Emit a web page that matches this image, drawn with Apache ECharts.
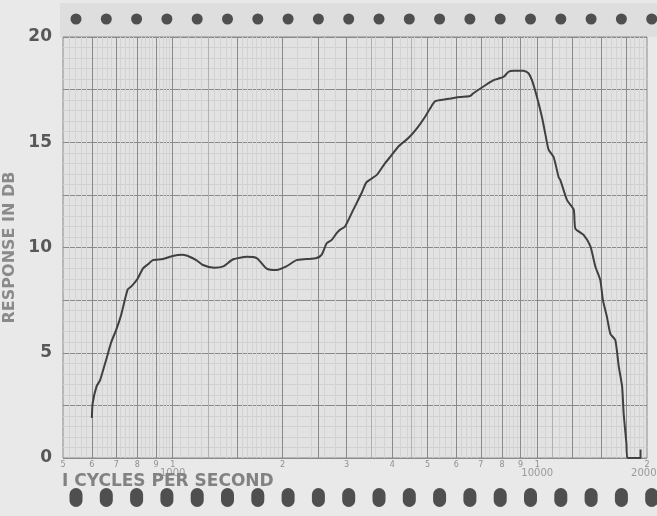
<!DOCTYPE html>
<html>
<head>
<meta charset="utf-8">
<script src="https://cdn.jsdelivr.net/npm/echarts@6/dist/echarts.min.js"></script>
<style>
html, body { margin: 0; padding: 0; background: #e9e9e9; }
#chart { width: 657px; height: 516px; }
</style>
</head>
<body>
<div id="chart"></div>
<script>
// curva de respuesta: frecuencia (Hz) y respuesta (dB)
var freqHz = [600, 603, 618, 632, 655, 678, 700, 722, 752, 770, 800, 828, 855, 882, 940,
  1000, 1065, 1112, 1160, 1210, 1300, 1375, 1465, 1595, 1700, 1810, 1925, 2050, 2185, 2330,
  2480, 2560, 2645, 2730, 2820, 2880, 2970, 3130, 3300, 3400, 3630, 3820, 3950, 4160, 4430,
  4670, 4920, 5080, 5250, 5650, 6140, 6540, 6680, 7120, 7590, 8080, 8340, 8610, 9160, 9460,
  9670, 9980, 10300, 10520, 10740, 11090, 11440, 11570, 12070, 12590, 12720, 13400, 13990, 14430, 14890,
  15140, 15530, 15870, 16370, 16730, 17090, 17260, 17560, 17700, 19200, 19200];
var responseDb = [1.9, 2.6, 3.4, 3.7, 4.6, 5.5, 6.1, 6.8, 8.0, 8.15, 8.5, 9.0, 9.2, 9.4, 9.45,
  9.6, 9.65, 9.56, 9.4, 9.17, 9.04, 9.1, 9.44, 9.56, 9.5, 9.0, 8.93, 9.1, 9.4, 9.45,
  9.5, 9.65, 10.2, 10.36, 10.7, 10.85, 11.0, 11.8, 12.6, 13.1, 13.45, 14.0, 14.3, 14.8, 15.2,
  15.65, 16.2, 16.6, 16.95, 17.05, 17.15, 17.2, 17.33, 17.65, 17.95, 18.1, 18.35, 18.4, 18.4, 18.28,
  17.95, 17.15, 16.2, 15.4, 14.65, 14.3, 13.35, 13.2, 12.25, 11.8, 10.9, 10.6, 10.05, 9.1, 8.45,
  7.5, 6.7, 5.9, 5.6, 4.35, 3.4, 2.1, 0.7, 0, 0, 0.4];

// rótulos del eje de frecuencias
var tickFreqs = [500, 600, 700, 800, 900, 1000, 2000, 3000, 4000, 5000, 6000, 7000, 8000, 9000, 10000, 20000];
var tickTexts = ['5', '6', '7', '8', '9', '1', '2', '3', '4', '5', '6', '7', '8', '9', '1', '2'];
var decadeLabels = [1000, 10000, 20000];
var yLabels = [0, 5, 10, 15, 20];

// líneas del papel
var gridMajor = [600, 700, 800, 900, 1000, 1500, 2000, 2500, 3000, 4000, 5000, 6000, 7000, 8000, 9000, 10000, 12500, 15000, 17500];
var gridMedium = [1250, 3500, 4500, 11000];

var chart = echarts.init(document.getElementById('chart'));

// cuadrícula fina del papel
var minorFreqs = [];
for (var f = 520; f < 1000; f += 20) minorFreqs.push(f);
for (f = 1050; f < 2000; f += 50) minorFreqs.push(f);
for (f = 2200; f < 10000; f += 200) minorFreqs.push(f);
for (f = 10500; f < 20000; f += 500) minorFreqs.push(f);

var lines = [];
minorFreqs.forEach(function (v) {
  lines.push({ xAxis: v, lineStyle: { color: '#d3d3d3', width: 1, type: 'solid' }, label: { show: false } });
});
gridMedium.forEach(function (v) {
  lines.push({ xAxis: v, lineStyle: { color: '#b0b0b0', width: 1, type: 'solid' }, label: { show: false } });
});
gridMajor.forEach(function (v) {
  lines.push({ xAxis: v, lineStyle: { color: '#8a8a8a', width: 1, type: 'solid' }, label: { show: false } });
});
tickFreqs.forEach(function (v, i) {
  lines.push({
    xAxis: v,
    lineStyle: { color: 'rgba(0,0,0,0)' },
    label: { show: true, opacity: 1, formatter: tickTexts[i] }
  });
});

// perforaciones del papel
var sprocketX = [];
for (var i = 0; i < 20; i++) sprocketX.push(76 + i * 30.3);
var graphics = [{ type: 'rect', shape: { x: 60, y: 3, width: 597, height: 34 }, style: { fill: '#dedede' }, z: -10 }];
sprocketX.forEach(function (x) {
  graphics.push({ type: 'circle', shape: { cx: x, cy: 19, r: 5.5 }, style: { fill: '#4f4f4f' } });
  graphics.push({ type: 'rect', shape: { x: x - 6.5, y: 488, width: 13, height: 19, r: 6.5 }, style: { fill: '#4f4f4f' } });
});

var option = {
  backgroundColor: '#e9e9e9',
  animation: false,
  title: {
    text: 'I CYCLES PER SECOND',
    left: 62, top: 473, padding: 0,
    textStyle: { fontSize: 17, fontWeight: 'bold', color: '#828282', fontFamily: 'DejaVu Sans' }
  },
  graphic: graphics,
  grid: {
    left: 63, right: 10, top: 37, bottom: 58,
    outerBoundsMode: 'none',
    containLabel: false,
    show: true, backgroundColor: '#e2e2e2', borderColor: '#8a8a8a', borderWidth: 1
  },
  xAxis: {
    type: 'log',
    logBase: 10,
    min: 500,
    max: 20000,
    axisLine: { show: false },
    axisTick: { show: false },
    splitLine: { show: false },
    axisLabel: {
      margin: 10,
      fontSize: 10,
      color: '#9a9a9a',
      fontFamily: 'DejaVu Sans',
      showMinLabel: true,
      showMaxLabel: true,
      hideOverlap: false,
      formatter: function (v) {
        var r = Math.round(v);
        return decadeLabels.indexOf(r) >= 0 ? String(r) : '';
      }
    }
  },
  yAxis: {
    type: 'value',
    min: 0,
    max: 20,
    interval: 2.5,
    name: 'RESPONSE IN DB',
    nameLocation: 'middle',
    nameGap: 40,
    nameTextStyle: { fontSize: 16, fontWeight: 'bold', color: '#8a8a8a', fontFamily: 'DejaVu Sans' },
    axisLine: { show: false },
    axisTick: { show: false },
    axisLabel: {
      margin: 11,
      fontSize: 17,
      fontWeight: 'bold',
      color: '#585858',
      fontFamily: 'DejaVu Sans',
      formatter: function (v) { return yLabels.indexOf(v) >= 0 ? String(v) : ''; }
    },
    splitLine: { lineStyle: { color: '#8a8a8a', width: 1 } },
    minorTick: { show: false, splitNumber: 5 },
    minorSplitLine: { show: true, lineStyle: { color: '#d0d0d0', width: 1 } }
  },
  series: [{
    type: 'line',
    data: freqHz.map(function (fq, k) { return [fq, responseDb[k]]; }),
    showSymbol: false,
    smooth: 0.2,
    lineStyle: { color: '#404040', width: 2 },
    z: 5,
    markLine: {
      silent: true,
      symbol: ['none', 'none'],
      animation: false,
      label: { position: 'start', distance: 3, fontSize: 8, color: '#8f8f8f', fontFamily: 'DejaVu Sans' },
      emphasis: { disabled: true },
      data: lines
    }
  }]
};

chart.setOption(option);
</script>
</body>
</html>
